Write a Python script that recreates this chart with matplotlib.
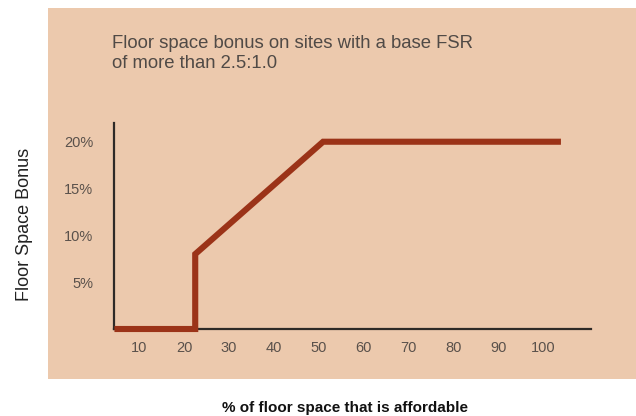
import matplotlib
matplotlib.use("Agg")
import matplotlib.pyplot as plt
from matplotlib.patches import Rectangle

# data
affordable_pct = [4.5, 22.5, 22.5, 51, 104]
bonus_pct = [0, 0, 8, 20, 20]
x_ticks = [10, 20, 30, 40, 50, 60, 70, 80, 90, 100]
y_ticks = [5, 10, 15, 20]
y_tick_labels = ["5%", "10%", "15%", "20%"]

W, H = 636, 416
PEACH = "#ecc9ad"
RUST = "#9b3318"

plt.rcParams["font.family"] = ["Liberation Sans", "DejaVu Sans"]

fig = plt.figure(figsize=(W / 100, H / 100), dpi=100)
fig.patch.set_facecolor("white")

# peach panel behind the chart
fig.patches.append(Rectangle((48 / W, 1 - 379 / H), (636 - 48) / W, (379 - 8) / H,
                             transform=fig.transFigure, facecolor=PEACH,
                             edgecolor="none", zorder=-10))

ax_left, ax_right = 114, 591
ax_top, ax_bottom = 123, 329
ax = fig.add_axes([ax_left / W, 1 - ax_bottom / H,
                   (ax_right - ax_left) / W, (ax_bottom - ax_top) / H])
ax.set_facecolor("none")

ax.plot(affordable_pct, bonus_pct, color=RUST, lw=4.4, solid_joinstyle="miter",
        solid_capstyle="butt", zorder=3, clip_on=False)

ax.set_xlim(4.4, 110.7)
ax.set_ylim(0, 22.0)

for side in ("top", "right"):
    ax.spines[side].set_visible(False)
for side in ("left", "bottom"):
    ax.spines[side].set_color("#2e2a27")
    ax.spines[side].set_linewidth(1.6)

ax.set_xticks(x_ticks)
ax.set_yticks(y_ticks)
ax.set_yticklabels(y_tick_labels)
ax.tick_params(axis="x", length=0, pad=9, labelsize=10.5, labelcolor="#5a514b")
ax.tick_params(axis="y", length=0, pad=15, labelsize=10.5, labelcolor="#5a514b")

fig.text(112 / W, 1 - 68 / H, "Floor space bonus on sites with a base FSR\nof more than 2.5:1.0",
         fontsize=13.3, color="#504a46", ha="left", va="baseline", linespacing=1.2)

fig.text(25 / W, 1 - 224 / H, "Floor Space Bonus", rotation=90, fontsize=13,
         color="#222222", ha="center", va="center")

fig.text(345 / W, 1 - 408 / H, "% of floor space that is affordable", fontsize=11,
         fontweight="bold", color="#111111", ha="center", va="center")

fig.savefig("out.png", dpi=100)
